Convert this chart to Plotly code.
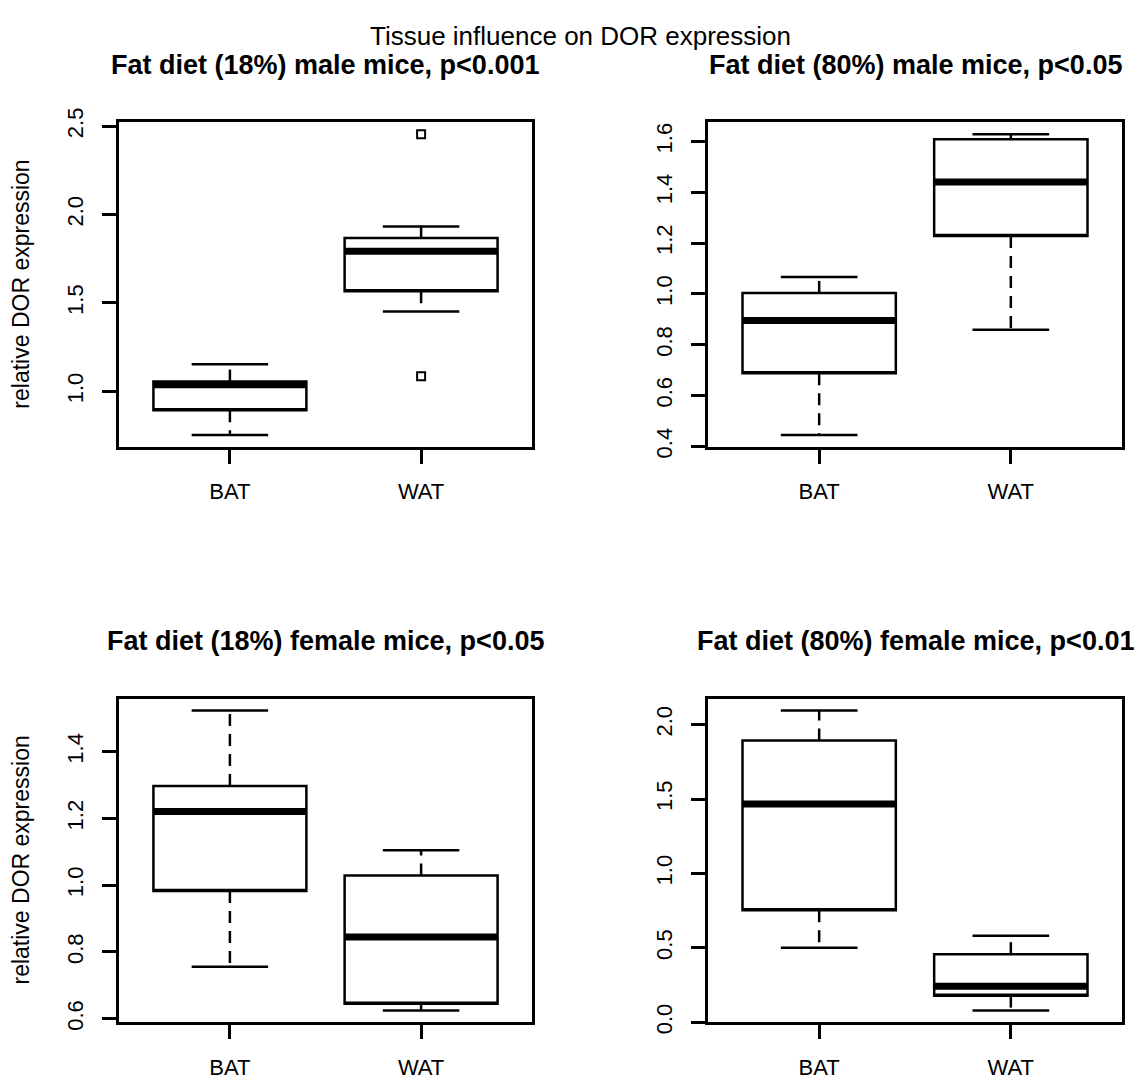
import plotly.graph_objects as go

# ---- data -------------------------------------------------------------
tissues = ["BAT", "WAT"]
tissue_pos = [1, 2]

panel_titles = [
    "Fat diet (18%) male mice, p<0.001",
    "Fat diet (80%) male mice, p<0.05",
    "Fat diet (18%) female mice, p<0.05",
    "Fat diet (80%) female mice, p<0.01",
]
main_title = "Tissue influence on DOR expression"
y_title = "relative DOR expression"

# five-number summaries per tissue (BAT, WAT)
male18_lower = [0.753, 1.452]
male18_q1 = [0.893, 1.566]
male18_median = [1.037, 1.793]
male18_q3 = [1.055, 1.867]
male18_upper = [1.153, 1.932]
male18_out_tissue = ["WAT", "WAT"]
male18_out_value = [2.454, 1.085]

male80_lower = [0.445, 0.859]
male80_q1 = [0.688, 1.228]
male80_median = [0.895, 1.440]
male80_q3 = [1.004, 1.609]
male80_upper = [1.067, 1.628]
male80_out_tissue = []
male80_out_value = []

female18_lower = [0.756, 0.625]
female18_q1 = [0.983, 0.645]
female18_median = [1.221, 0.845]
female18_q3 = [1.297, 1.029]
female18_upper = [1.523, 1.105]
female18_out_tissue = []
female18_out_value = []

female80_lower = [0.501, 0.080]
female80_q1 = [0.752, 0.179]
female80_median = [1.466, 0.242]
female80_q3 = [1.893, 0.458]
female80_upper = [2.094, 0.582]
female80_out_tissue = []
female80_out_value = []

y_dticks = [0.5, 0.2, 0.2, 0.5]

panels = [
    (male18_lower, male18_q1, male18_median, male18_q3, male18_upper, male18_out_tissue, male18_out_value),
    (male80_lower, male80_q1, male80_median, male80_q3, male80_upper, male80_out_tissue, male80_out_value),
    (female18_lower, female18_q1, female18_median, female18_q3, female18_upper, female18_out_tissue, female18_out_value),
    (female80_lower, female80_q1, female80_median, female80_q3, female80_upper, female80_out_tissue, female80_out_value),
]

# ---- layout geometry (pixels) -----------------------------------------
W, H = 1145, 1089
col_px = [(119, 532), (708, 1122)]
row_px = [(110, 443), (701, 1033)]
FONT = "Liberation Sans, Arial, Helvetica, sans-serif"
LW = 2.5
BOX_HALF = 0.4
CAP_HALF = 0.2


def px_x(p):
    return p / W


def px_y(p):
    return 1 - p / H


fig = go.Figure()
layout_axes = {}
annotations = []

for i, (lw, q1, med, q3, uw, out_t, out_v) in enumerate(panels):
    r, c = divmod(i, 2)
    n = i + 1
    xa = "x" if n == 1 else f"x{n}"
    ya = "y" if n == 1 else f"y{n}"
    xkey = "xaxis" if n == 1 else f"xaxis{n}"
    ykey = "yaxis" if n == 1 else f"yaxis{n}"

    # box body
    fig.add_trace(go.Box(
        x=tissue_pos, q1=q1, median=q1, q3=q3,
        lowerfence=q1, upperfence=q3,
        width=2 * BOX_HALF, boxpoints=False,
        fillcolor="white", line=dict(color="black", width=LW),
        xaxis=xa, yaxis=ya, showlegend=False, hoverinfo="skip",
    ))

    for k, pos in enumerate(tissue_pos):
        # dashed whiskers
        for a, b in ((q3[k], uw[k]), (q1[k], lw[k])):
            fig.add_trace(go.Scatter(
                x=[pos, pos], y=[a, b], mode="lines",
                line=dict(color="black", width=LW, dash="12px,8px"),
                xaxis=xa, yaxis=ya, showlegend=False, hoverinfo="skip",
            ))
        # whisker caps
        for v in (uw[k], lw[k]):
            fig.add_trace(go.Scatter(
                x=[pos - CAP_HALF, pos + CAP_HALF], y=[v, v], mode="lines",
                line=dict(color="black", width=LW),
                xaxis=xa, yaxis=ya, showlegend=False, hoverinfo="skip",
            ))
        # thick median
        fig.add_trace(go.Scatter(
            x=[pos - BOX_HALF, pos + BOX_HALF], y=[med[k], med[k]], mode="lines",
            line=dict(color="black", width=7),
            xaxis=xa, yaxis=ya, showlegend=False, hoverinfo="skip",
        ))

    # outliers
    if out_v:
        fig.add_trace(go.Scatter(
            x=[tissue_pos[tissues.index(t)] for t in out_t], y=out_v,
            mode="markers",
            marker=dict(symbol="square-open", size=8, color="black", line=dict(width=2)),
            xaxis=xa, yaxis=ya, showlegend=False, hoverinfo="skip",
        ))

    # y range: data extent padded by 4 % each side
    vals = lw + uw + out_v
    lo, hi = min(vals), max(vals)
    pad = 0.04 * (hi - lo)

    x0, x1 = col_px[c]
    y0, y1 = row_px[r]
    axis_common = dict(
        showline=True, mirror=True, linecolor="black", linewidth=LW,
        ticks="outside", ticklen=14, tickwidth=LW, tickcolor="black",
        showgrid=False, zeroline=False,
        tickfont=dict(family=FONT, size=22, color="black"),
    )
    layout_axes[xkey] = dict(
        axis_common, domain=[px_x(x0), px_x(x1)], anchor=ya,
        range=[0.5 - 0.04 * 2, 2.5 + 0.04 * 2],
        tickmode="array", tickvals=tissue_pos, ticktext=tissues,
        ticklabelstandoff=9,
    )
    layout_axes[ykey] = dict(
        axis_common, domain=[px_y(y1), px_y(y0)], anchor=xa,
        range=[lo - pad, hi + pad],
        tick0=0, dtick=y_dticks[i], tickformat=".1f", tickangle=-90,
        ticklabelstandoff=10,
    )

    # panel title
    annotations.append(dict(
        text=f"<b>{panel_titles[i]}</b>", xref="paper", yref="paper",
        x=px_x((x0 + x1) / 2), y=px_y(y0 - 59), xanchor="center", yanchor="middle",
        showarrow=False, font=dict(family=FONT, size=27, color="black"),
    ))
    # y axis title on the left column
    if c == 0:
        annotations.append(dict(
            text=y_title, xref="paper", yref="paper", textangle=-90,
            x=px_x(21), y=px_y((y0 + y1) / 2), xanchor="center", yanchor="middle",
            showarrow=False, font=dict(family=FONT, size=23, color="black"),
        ))

annotations.append(dict(
    text=main_title, xref="paper", yref="paper",
    x=px_x(580), y=px_y(22), xanchor="center", yanchor="middle",
    showarrow=False, font=dict(family=FONT, size=26, color="black"),
))

fig.update_layout(
    width=W, height=H, margin=dict(l=0, r=0, t=0, b=0),
    paper_bgcolor="white", plot_bgcolor="white",
    annotations=annotations, **layout_axes,
)

fig.write_html("out.html")
